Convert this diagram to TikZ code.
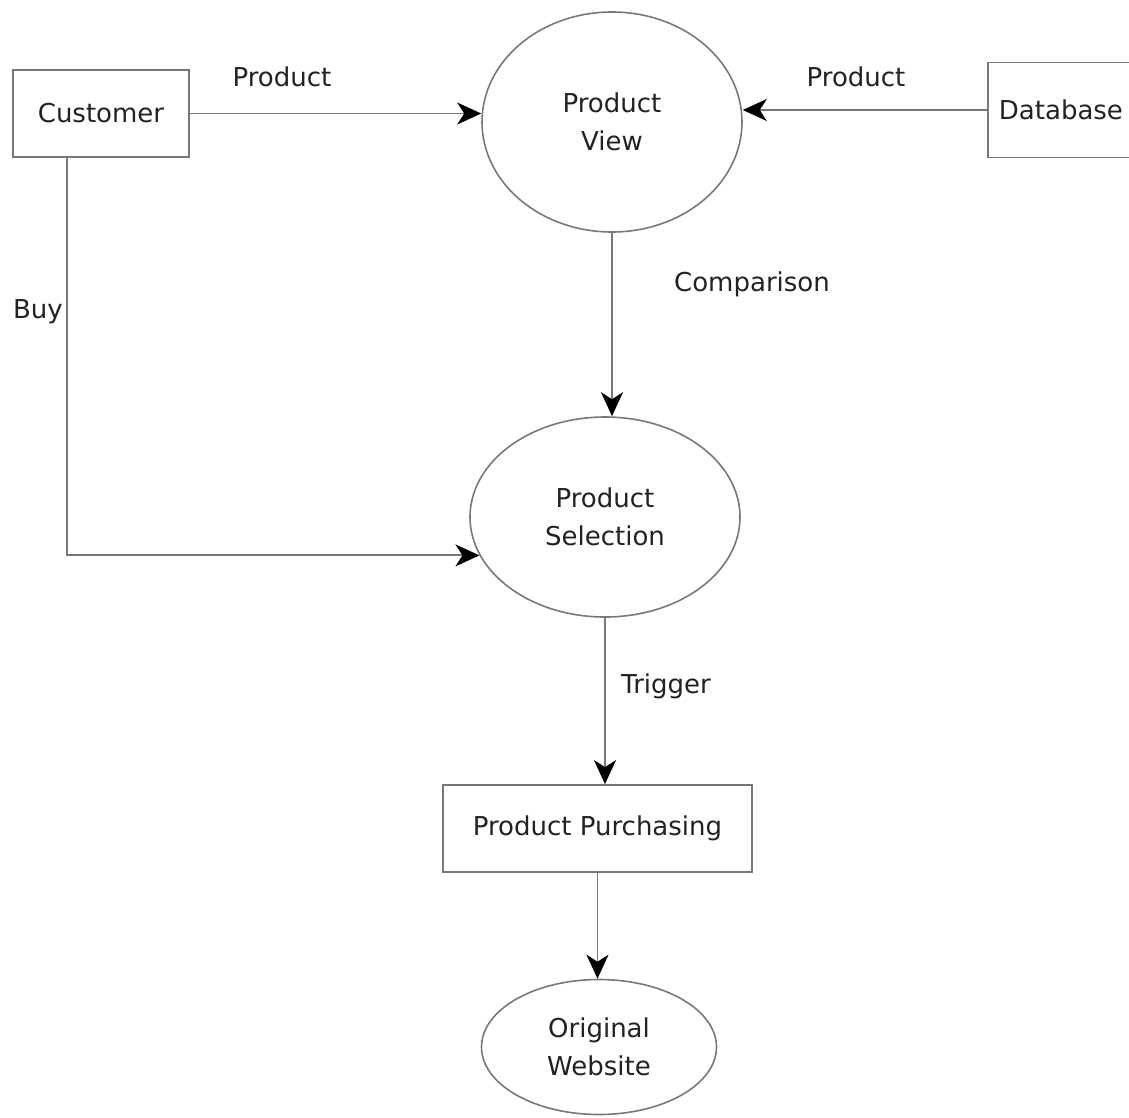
\documentclass[tikz,border=0pt]{standalone}
\usepackage{fontspec}
\setmainfont{DejaVu Sans}
\usetikzlibrary{shapes.geometric,arrows.meta}
\definecolor{linegray}{RGB}{120,120,120}
\definecolor{txt}{RGB}{34,34,34}
\tikzset{
  box/.style={draw=linegray, line width=1.8pt, rectangle, inner sep=0pt, text=txt},
  proc/.style={draw=linegray, line width=1.6pt, ellipse, inner sep=0pt, align=center, text=txt},
  flow/.style={draw=linegray, line width=1.8pt, -{Stealth[length=24pt, width=22pt, inset=7pt, black]}},
  lbl/.style={text=txt, inner sep=0pt}
}
\begin{document}
\begin{tikzpicture}[x=1pt, y=-1pt]
\fontsize{26}{38}\selectfont
\clip (0,0) rectangle (1129,1117);
\useasboundingbox (0,0) rectangle (1129,1117);
\node[box, minimum width=176pt, minimum height=87pt] (cust) at (101,113.5) {Customer};
\node[box, minimum height=95pt, inner xsep=11pt, anchor=west] (db) at (987,110) {Database};
\node[proc, minimum width=260pt, minimum height=220pt] (pv) at (612,122) {Product\\View};
\node[proc, minimum width=270pt, minimum height=200pt] (ps) at (605,517) {Product\\Selection};
\node[box, minimum width=309pt, minimum height=87pt] (pur) at (597.5,828.5) {Product Purchasing};
\node[proc, minimum width=235pt, minimum height=135pt] (ow) at (599,1047) {Original\\Website};
\coordinate (buyx) at (67,0);
\draw[flow] (cust.east) -- (cust.east -| pv.west);
\draw[flow] (db.west) -- (db.west -| pv.east);
\draw[flow] (pv.south) -- (pv.south |- ps.north);
\draw[flow] (cust.south -| buyx) |- (ps.197);
\draw[flow] (ps.south) -- (ps.south |- pur.north);
\draw[flow] (pur.south) -- (pur.south |- ow.north);
\node[lbl] (l1) at (282,77) {Product};
\node[lbl] (l2) at (856,77) {Product};
\node[lbl] (l3) at (752,284) {Comparison};
\node[lbl] (l4) at (38,312) {Buy};
\node[lbl] (l5) at (666,686) {Trigger};
\end{tikzpicture}
\end{document}
